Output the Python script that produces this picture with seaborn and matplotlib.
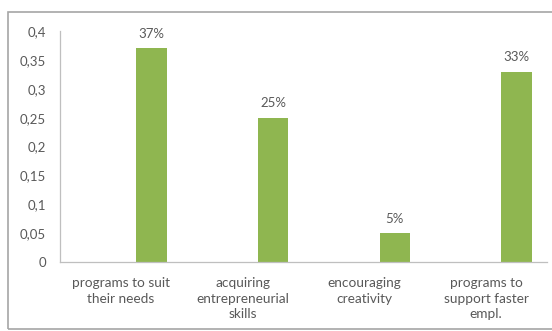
import matplotlib
matplotlib.use("Agg")
import matplotlib.pyplot as plt
import matplotlib.patches as mpatches
from matplotlib.ticker import FuncFormatter, MultipleLocator
import seaborn as sns
import pandas as pd

categories = [
    "programs to suit\ntheir needs",
    "acquiring\nentrepreneurial\nskills",
    "encouraging\ncreativity",
    "programs to\nsupport faster\nempl.",
]
shares = [0.37, 0.25, 0.05, 0.33]
# three series slots per category; only the last one carries data
series_order = ["Series 1", "Series 2", "Series 3"]
series_name = "Series 3"

df = pd.DataFrame({"category": categories, "share": shares, "series": series_name})

sns.set_theme(style="white")
plt.rcParams["font.family"] = ["Lato", "DejaVu Sans"]

text_grey = "#595959"
bar_green = "#8fb650"

fig = plt.figure(figsize=(5.52, 3.31), dpi=100)
ax = fig.add_axes([0.1087, 0.2085, 0.8823, 0.6975])

sns.barplot(
    data=df, x="category", y="share", hue="series", hue_order=series_order,
    order=categories, palette={s: bar_green for s in series_order},
    width=0.75, dodge=True, legend=False, ax=ax, linewidth=0, saturation=1,
)

for cont in ax.containers:
    ax.bar_label(cont, labels=[f"{v:.0%}" for v in cont.datavalues],
                 padding=6, fontsize=9.5, color=text_grey)

ax.set_xlim(-0.5, len(categories) - 0.5)
ax.set_ylim(0, 0.4)
ax.yaxis.set_major_locator(MultipleLocator(0.05))
ax.yaxis.set_major_formatter(FuncFormatter(lambda v, p: f"{v:.2f}".rstrip("0").rstrip(".").replace(".", ",") if v else "0"))
ax.set_xlabel("")
ax.set_ylabel("")
ax.tick_params(axis="both", length=0, labelcolor=text_grey)
ax.tick_params(axis="y", pad=10, labelsize=9.5)
ax.tick_params(axis="x", pad=11, labelsize=9.8)
for lbl in ax.get_xticklabels():
    lbl.set_linespacing(1.35)

for side in ["top", "right"]:
    ax.spines[side].set_visible(False)
for side in ["left", "bottom"]:
    ax.spines[side].set_color("#bfbfbf")
    ax.spines[side].set_linewidth(0.9)

# chart area frame
frame = mpatches.Rectangle((8 / 552, 2 / 331), 1.2, 317 / 331, transform=fig.transFigure,
                           fill=False, edgecolor="#a6a6a6", linewidth=1.2)
fig.add_artist(frame)

fig.savefig("out.png", dpi=100)
